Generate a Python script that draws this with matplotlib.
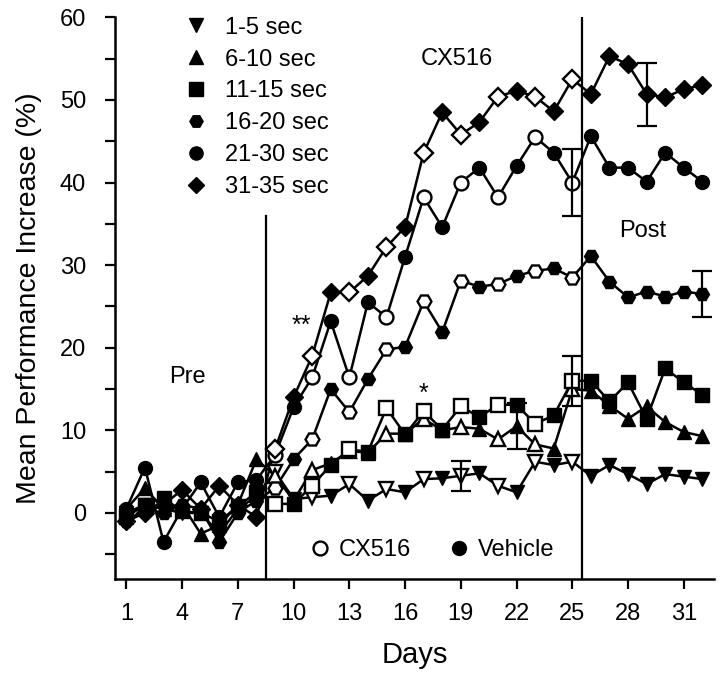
import matplotlib
matplotlib.use("Agg")
import matplotlib.pyplot as plt
from matplotlib.lines import Line2D
import numpy as np

plt.rcParams["font.family"] = ["Liberation Sans", "DejaVu Sans"]

# ---- data ----
DAYS = list(range(1, 33))
CX516_DAYS = list(range(9, 26, 2))      # open symbols = drug days
PRE_END = 8.5
POST_START = 25.5

INTERVALS = ["1-5 sec", "6-10 sec", "11-15 sec", "16-20 sec", "21-30 sec", "31-35 sec"]
MARKERS = ["v", "^", "s", "H", "o", "D"]

SEC_1_5 = [0.0, 1.0, 0.5, 0.0, 0.0, -2.5, 0.5, 2.0,
           5.0, 1.7, 1.9, 2.1, 3.5, 1.5, 2.9, 2.5, 4.1, 4.2, 4.5, 4.8, 3.3, 2.5, 6.2, 5.8, 6.2,
           4.5, 5.8, 4.7, 3.5, 4.7, 4.4, 4.1]
SEC_6_10 = [0.5, 3.0, 0.5, 1.0, -2.5, -1.5, 1.0, 6.5,
            4.5, 1.5, 5.2, 6.0, 7.5, 7.3, 9.6, 9.6, 11.4, 10.0, 10.4, 10.2, 8.9, 10.5, 8.3, 7.8, 15.0,
            14.8, 13.0, 11.4, 12.9, 11.0, 9.8, 9.3]
SEC_11_15 = [-0.5, 1.0, 1.8, 0.2, 0.0, -1.0, 0.8, 2.5,
             1.1, 1.1, 3.3, 5.8, 7.7, 7.4, 12.7, 9.5, 12.3, 10.1, 12.9, 11.6, 13.1, 13.1, 10.8, 11.8, 16.0,
             16.0, 13.5, 15.8, 11.4, 17.5, 15.8, 14.3]
SEC_16_20 = [-1.0, 0.5, 0.0, 1.0, 0.5, -3.5, 0.0, 1.5,
             3.0, 6.5, 8.9, 15.0, 12.2, 16.2, 19.8, 20.1, 25.6, 21.9, 28.1, 27.4, 27.7, 28.7, 29.3, 29.6, 28.5,
             31.1, 28.0, 26.1, 26.8, 26.2, 26.8, 26.5]
SEC_21_30 = [0.5, 5.5, -3.5, 0.5, 3.7, -0.5, 3.7, 4.0,
             7.0, 12.8, 16.4, 23.2, 16.4, 25.5, 23.7, 31.0, 38.2, 34.6, 40.0, 41.8, 38.2, 42.0, 45.5, 43.6, 40.0,
             45.6, 41.8, 41.8, 40.1, 43.6, 41.8, 40.1]
SEC_31_35 = [-1.0, 0.0, 1.0, 2.8, 0.5, 3.3, 1.0, -0.5,
             7.7, 14.0, 19.0, 26.7, 26.7, 28.7, 32.2, 34.6, 43.6, 48.5, 45.8, 47.3, 50.4, 51.1, 50.4, 48.6, 52.5,
             50.7, 55.3, 54.3, 50.7, 50.3, 51.3, 51.8]
SERIES = [SEC_1_5, SEC_6_10, SEC_11_15, SEC_16_20, SEC_21_30, SEC_31_35]

# one error bar shown per interval
ERR_INTERVAL = ["1-5 sec", "6-10 sec", "11-15 sec", "16-20 sec", "21-30 sec", "31-35 sec"]
ERR_DAY = [19, 22, 25, 32, 25, 29]
ERR_SIZE = [1.8, 2.8, 3.0, 2.8, 4.0, 3.8]

X_TICKS = list(range(1, 32, 3))


def marker_size(mk):
    return 9 if mk == "D" else 10


fig = plt.figure(figsize=(7.2, 6.91), dpi=100)
ax = fig.add_axes([0.160, 0.162, 0.831, 0.813])

days = np.array(DAYS)
is_drug = np.isin(days, CX516_DAYS)
for vals, mk in zip(SERIES, MARKERS):
    v = np.array(vals)
    ms = marker_size(mk)
    ax.plot(days, v, "-", color="black", lw=1.8, zorder=2)
    ax.plot(days[~is_drug], v[~is_drug], ls="none", marker=mk, ms=ms,
            mfc="black", mec="black", zorder=3)
    ax.plot(days[is_drug], v[is_drug], ls="none", marker=mk, ms=ms,
            mfc="white", mec="black", mew=1.7, zorder=3)

for name, d, e in zip(ERR_INTERVAL, ERR_DAY, ERR_SIZE):
    v = SERIES[INTERVALS.index(name)][DAYS.index(d)]
    ax.errorbar(d, v, yerr=e, fmt="none", ecolor="black", elinewidth=1.6,
                capsize=7, capthick=1.6, zorder=4)

# phase boundaries
ax.axvline(PRE_END, ymin=0, ymax=(36 + 8) / 68, color="black", lw=1.6, zorder=1)
ax.axvline(POST_START, color="black", lw=1.6, zorder=1)

ax.text(4.3, 16.5, "Pre", fontsize=17, ha="center", va="center")
ax.text(18.8, 54.9, "CX516", fontsize=17, ha="center", va="center")
ax.text(28.8, 34.1, "Post", fontsize=17, ha="center", va="center")
ax.text(10.4, 22.6, "**", fontsize=18, ha="center", va="center")
ax.text(17.0, 14.4, "*", fontsize=18, ha="center", va="center")

ax.set_xlim(0.4, 32.6)
ax.set_ylim(-8, 60)
ax.set_xticks(X_TICKS)
ax.set_yticks(np.arange(0, 61, 10))
ax.set_yticks(np.arange(-5, 60, 5), minor=True)
ax.tick_params(axis="both", which="both", direction="out", length=7, width=1.6,
               labelsize=17)
ax.tick_params(axis="y", pad=14)
ax.tick_params(axis="x", pad=10)
for side in ("top", "right"):
    ax.spines[side].set_visible(False)
for side in ("left", "bottom"):
    ax.spines[side].set_linewidth(1.8)

ax.set_xlabel("Days", fontsize=21, labelpad=12)
ax.set_ylabel("Mean Performance Increase (%)", fontsize=20.5, labelpad=13)

handles = [Line2D([], [], ls="none", marker=mk, ms=marker_size(mk) - 0.5,
                  mfc="black", mec="black", label=lab)
           for mk, lab in zip(MARKERS, INTERVALS)]
leg = ax.legend(handles=handles, loc="upper left", bbox_to_anchor=(0.1, 1.018),
                frameon=False, fontsize=17, handlelength=1.0, handletextpad=0.7,
                labelspacing=0.42, borderaxespad=0)
ax.add_artist(leg)

drug_handles = [Line2D([], [], ls="none", marker="o", ms=10, mfc="white",
                       mec="black", mew=1.7, label="CX516"),
                Line2D([], [], ls="none", marker="o", ms=10, mfc="black",
                       mec="black", label="Vehicle")]
ax.legend(handles=drug_handles, loc="center", bbox_to_anchor=(0.53, 0.052),
          ncol=2, frameon=False, fontsize=17, handlelength=0.8,
          handletextpad=0.4, columnspacing=1.6, borderaxespad=0)

fig.savefig("out.png", dpi=100)
